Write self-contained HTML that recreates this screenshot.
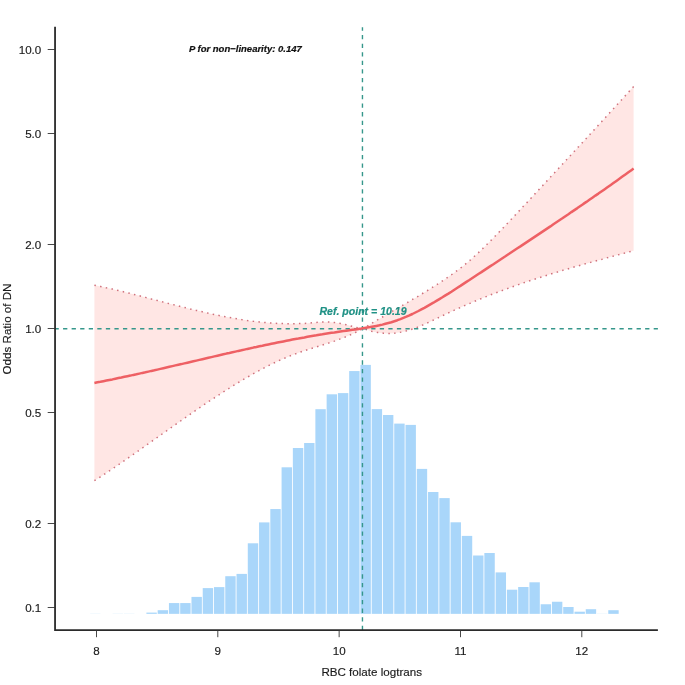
<!DOCTYPE html>
<html><head><meta charset="utf-8"><title>RCS plot</title>
<style>
html,body{margin:0;padding:0;background:#fff;}
svg{display:block;}
text{font-family:"Liberation Sans",Arial,Helvetica,sans-serif;}
</style></head>
<body>
<svg width="685" height="685" viewBox="0 0 685 685">
<rect width="685" height="685" fill="#ffffff"/>
<g fill="#A9D6FA">
<rect x="90.08" y="613.50" width="10.4" height="0.35" opacity="0.35"/><rect x="112.61" y="613.50" width="10.4" height="0.35" opacity="0.35"/><rect x="123.88" y="613.50" width="10.4" height="0.35" opacity="0.35"/><rect x="146.41" y="612.60" width="10.4" height="1.25"/><rect x="157.67" y="610.20" width="10.4" height="3.65"/><rect x="168.94" y="603.07" width="10.4" height="10.78"/><rect x="180.20" y="603.07" width="10.4" height="10.78"/><rect x="191.47" y="596.90" width="10.4" height="16.95"/><rect x="202.73" y="588.10" width="10.4" height="25.75"/><rect x="214.00" y="587.10" width="10.4" height="26.75"/><rect x="225.26" y="576.20" width="10.4" height="37.65"/><rect x="236.52" y="573.90" width="10.4" height="39.95"/><rect x="247.79" y="543.30" width="10.4" height="70.55"/><rect x="259.06" y="522.40" width="10.4" height="91.45"/><rect x="270.32" y="509.05" width="10.4" height="104.80"/><rect x="281.58" y="467.30" width="10.4" height="146.55"/><rect x="292.85" y="448.00" width="10.4" height="165.85"/><rect x="304.12" y="443.00" width="10.4" height="170.85"/><rect x="315.38" y="409.20" width="10.4" height="204.65"/><rect x="326.64" y="394.30" width="10.4" height="219.55"/><rect x="337.91" y="393.10" width="10.4" height="220.75"/><rect x="349.18" y="371.06" width="10.4" height="242.79"/><rect x="360.44" y="364.90" width="10.4" height="248.95"/><rect x="371.70" y="409.10" width="10.4" height="204.75"/><rect x="382.97" y="415.00" width="10.4" height="198.85"/><rect x="394.24" y="423.60" width="10.4" height="190.25"/><rect x="405.50" y="424.90" width="10.4" height="188.95"/><rect x="416.76" y="468.90" width="10.4" height="144.95"/><rect x="428.03" y="492.00" width="10.4" height="121.85"/><rect x="439.30" y="498.10" width="10.4" height="115.75"/><rect x="450.56" y="522.30" width="10.4" height="91.55"/><rect x="461.82" y="535.90" width="10.4" height="77.95"/><rect x="473.09" y="555.50" width="10.4" height="58.35"/><rect x="484.36" y="553.00" width="10.4" height="60.85"/><rect x="495.62" y="572.40" width="10.4" height="41.45"/><rect x="506.88" y="589.70" width="10.4" height="24.15"/><rect x="518.15" y="587.00" width="10.4" height="26.85"/><rect x="529.42" y="582.30" width="10.4" height="31.55"/><rect x="540.68" y="604.25" width="10.4" height="9.60"/><rect x="551.95" y="601.75" width="10.4" height="12.10"/><rect x="563.21" y="607.00" width="10.4" height="6.85"/><rect x="574.48" y="611.70" width="10.4" height="2.15"/><rect x="585.74" y="609.20" width="10.4" height="4.65"/><rect x="597.00" y="613.50" width="10.4" height="0.35" opacity="0.35"/><rect x="608.27" y="610.20" width="10.4" height="3.65"/>
</g>
<path d="M94.4,285.2 L97.4,285.8 L100.4,286.4 L103.4,287.1 L106.4,287.8 L109.4,288.4 L112.4,289.1 L115.4,289.9 L118.4,290.6 L121.4,291.3 L124.4,292.0 L127.4,292.8 L130.4,293.5 L133.4,294.3 L136.4,295.1 L139.4,295.8 L142.4,296.6 L145.4,297.4 L148.4,298.2 L151.4,299.0 L154.4,299.7 L157.4,300.5 L160.4,301.3 L163.4,302.1 L166.4,302.9 L169.4,303.7 L172.4,304.4 L175.4,305.2 L178.4,306.0 L181.4,306.7 L184.4,307.5 L187.4,308.2 L190.4,309.0 L193.4,309.7 L196.4,310.4 L199.4,311.1 L202.4,311.8 L205.4,312.5 L208.4,313.2 L211.4,313.9 L214.4,314.5 L217.4,315.1 L220.4,315.8 L223.4,316.4 L226.4,316.9 L229.4,317.5 L232.4,318.0 L235.4,318.6 L238.4,319.1 L241.4,319.6 L244.4,320.0 L247.4,320.5 L250.4,320.9 L253.4,321.3 L256.4,321.6 L259.4,322.0 L262.4,322.3 L265.4,322.6 L268.4,322.8 L271.4,323.0 L274.4,323.2 L277.4,323.4 L280.4,323.5 L283.4,323.6 L286.4,323.7 L289.4,323.7 L292.4,323.7 L295.4,323.7 L298.4,323.6 L301.4,323.5 L304.4,323.4 L307.4,323.2 L310.4,323.0 L313.4,322.7 L316.4,322.5 L319.4,322.2 L322.4,322.1 L325.4,322.0 L328.4,322.0 L331.4,322.2 L334.4,322.5 L337.4,323.0 L340.4,323.5 L343.4,324.1 L346.4,324.8 L349.4,325.6 L352.4,326.4 L355.4,327.2 L358.4,327.9 L361.4,328.6 L362.5,328.7 L365.5,327.1 L368.5,325.3 L371.5,323.5 L374.5,321.7 L377.5,319.9 L380.5,318.2 L383.5,316.4 L386.5,314.6 L389.5,312.9 L392.5,311.2 L395.5,309.4 L398.5,307.7 L401.5,306.0 L404.5,304.2 L407.5,302.5 L410.5,300.7 L413.5,298.9 L416.5,297.2 L419.5,295.4 L422.5,293.5 L425.5,291.7 L428.5,289.9 L431.5,288.0 L434.5,286.1 L437.5,284.2 L440.5,282.2 L443.5,280.2 L446.5,278.2 L449.5,276.1 L452.5,274.0 L455.5,271.8 L458.5,269.6 L461.5,267.3 L464.5,264.9 L467.5,262.4 L470.5,259.9 L473.5,257.2 L476.5,254.5 L479.5,251.7 L482.5,248.8 L485.5,245.9 L488.5,242.9 L491.5,239.9 L494.5,236.8 L497.5,233.8 L500.5,230.6 L503.5,227.5 L506.5,224.3 L509.5,221.2 L512.5,218.0 L515.5,214.8 L518.5,211.6 L521.5,208.3 L524.5,205.1 L527.5,201.9 L530.5,198.7 L533.5,195.4 L536.5,192.2 L539.5,189.0 L542.5,185.8 L545.5,182.5 L548.5,179.3 L551.5,176.0 L554.5,172.8 L557.5,169.6 L560.5,166.3 L563.5,163.1 L566.5,159.8 L569.5,156.6 L572.5,153.3 L575.5,150.1 L578.5,146.8 L581.5,143.6 L584.5,140.3 L587.5,137.1 L590.5,133.8 L593.5,130.5 L596.5,127.3 L599.5,124.0 L602.5,120.7 L605.5,117.4 L608.5,114.1 L611.5,110.9 L614.5,107.6 L617.5,104.3 L620.5,101.0 L623.5,97.7 L626.5,94.4 L629.5,91.1 L632.5,87.8 L633.6,86.6 L633.6,250.7 L632.5,251.0 L629.5,251.8 L626.5,252.6 L623.5,253.4 L620.5,254.2 L617.5,255.0 L614.5,255.8 L611.5,256.6 L608.5,257.4 L605.5,258.2 L602.5,259.1 L599.5,259.9 L596.5,260.7 L593.5,261.5 L590.5,262.4 L587.5,263.2 L584.5,264.0 L581.5,264.9 L578.5,265.8 L575.5,266.6 L572.5,267.5 L569.5,268.4 L566.5,269.3 L563.5,270.1 L560.5,271.0 L557.5,272.0 L554.5,272.9 L551.5,273.8 L548.5,274.7 L545.5,275.7 L542.5,276.6 L539.5,277.6 L536.5,278.6 L533.5,279.5 L530.5,280.5 L527.5,281.5 L524.5,282.5 L521.5,283.6 L518.5,284.6 L515.5,285.7 L512.5,286.7 L509.5,287.8 L506.5,288.9 L503.5,290.0 L500.5,291.1 L497.5,292.2 L494.5,293.4 L491.5,294.5 L488.5,295.7 L485.5,296.9 L482.5,298.1 L479.5,299.3 L476.5,300.5 L473.5,301.8 L470.5,303.1 L467.5,304.3 L464.5,305.6 L461.5,307.0 L458.5,308.3 L455.5,309.6 L452.5,311.0 L449.5,312.4 L446.5,313.8 L443.5,315.2 L440.5,316.7 L437.5,318.1 L434.5,319.6 L431.5,321.0 L428.5,322.4 L425.5,323.8 L422.5,325.1 L419.5,326.4 L416.5,327.6 L413.5,328.7 L410.5,329.7 L407.5,330.6 L404.5,331.4 L401.5,332.1 L398.5,332.6 L395.5,333.0 L392.5,333.3 L389.5,333.4 L386.5,333.4 L383.5,333.2 L380.5,332.9 L377.5,332.5 L374.5,331.9 L371.5,331.2 L368.5,330.3 L365.5,329.3 L362.5,328.7 L361.4,329.4 L358.4,331.0 L355.4,332.5 L352.4,333.9 L349.4,335.3 L346.4,336.6 L343.4,337.8 L340.4,338.9 L337.4,340.0 L334.4,341.1 L331.4,342.1 L328.4,343.1 L325.4,344.1 L322.4,345.0 L319.4,346.0 L316.4,346.9 L313.4,347.8 L310.4,348.8 L307.4,349.7 L304.4,350.7 L301.4,351.7 L298.4,352.8 L295.4,353.9 L292.4,355.0 L289.4,356.2 L286.4,357.4 L283.4,358.7 L280.4,360.0 L277.4,361.4 L274.4,362.8 L271.4,364.2 L268.4,365.7 L265.4,367.3 L262.4,368.8 L259.4,370.4 L256.4,372.1 L253.4,373.7 L250.4,375.4 L247.4,377.2 L244.4,378.9 L241.4,380.7 L238.4,382.5 L235.4,384.4 L232.4,386.2 L229.4,388.1 L226.4,390.0 L223.4,391.9 L220.4,393.9 L217.4,395.8 L214.4,397.8 L211.4,399.8 L208.4,401.8 L205.4,403.8 L202.4,405.8 L199.4,407.9 L196.4,409.9 L193.4,412.0 L190.4,414.1 L187.4,416.2 L184.4,418.3 L181.4,420.4 L178.4,422.5 L175.4,424.6 L172.4,426.7 L169.4,428.8 L166.4,431.0 L163.4,433.1 L160.4,435.2 L157.4,437.4 L154.4,439.5 L151.4,441.6 L148.4,443.7 L145.4,445.9 L142.4,448.0 L139.4,450.1 L136.4,452.2 L133.4,454.3 L130.4,456.4 L127.4,458.5 L124.4,460.6 L121.4,462.7 L118.4,464.7 L115.4,466.8 L112.4,468.8 L109.4,470.8 L106.4,472.8 L103.4,474.8 L100.4,476.8 L97.4,478.8 L94.4,480.7Z" fill="#FFE6E4" stroke="none"/>
<path d="M94.4,285.2 L97.4,285.8 L100.4,286.4 L103.4,287.1 L106.4,287.8 L109.4,288.4 L112.4,289.1 L115.4,289.9 L118.4,290.6 L121.4,291.3 L124.4,292.0 L127.4,292.8 L130.4,293.5 L133.4,294.3 L136.4,295.1 L139.4,295.8 L142.4,296.6 L145.4,297.4 L148.4,298.2 L151.4,299.0 L154.4,299.7 L157.4,300.5 L160.4,301.3 L163.4,302.1 L166.4,302.9 L169.4,303.7 L172.4,304.4 L175.4,305.2 L178.4,306.0 L181.4,306.7 L184.4,307.5 L187.4,308.2 L190.4,309.0 L193.4,309.7 L196.4,310.4 L199.4,311.1 L202.4,311.8 L205.4,312.5 L208.4,313.2 L211.4,313.9 L214.4,314.5 L217.4,315.1 L220.4,315.8 L223.4,316.4 L226.4,316.9 L229.4,317.5 L232.4,318.0 L235.4,318.6 L238.4,319.1 L241.4,319.6 L244.4,320.0 L247.4,320.5 L250.4,320.9 L253.4,321.3 L256.4,321.6 L259.4,322.0 L262.4,322.3 L265.4,322.6 L268.4,322.8 L271.4,323.0 L274.4,323.2 L277.4,323.4 L280.4,323.5 L283.4,323.6 L286.4,323.7 L289.4,323.7 L292.4,323.7 L295.4,323.7 L298.4,323.6 L301.4,323.5 L304.4,323.4 L307.4,323.2 L310.4,323.0 L313.4,322.7 L316.4,322.5 L319.4,322.2 L322.4,322.1 L325.4,322.0 L328.4,322.0 L331.4,322.2 L334.4,322.5 L337.4,323.0 L340.4,323.5 L343.4,324.1 L346.4,324.8 L349.4,325.6 L352.4,326.4 L355.4,327.2 L358.4,327.9 L361.4,328.6 L362.5,328.7 L365.5,327.1 L368.5,325.3 L371.5,323.5 L374.5,321.7 L377.5,319.9 L380.5,318.2 L383.5,316.4 L386.5,314.6 L389.5,312.9 L392.5,311.2 L395.5,309.4 L398.5,307.7 L401.5,306.0 L404.5,304.2 L407.5,302.5 L410.5,300.7 L413.5,298.9 L416.5,297.2 L419.5,295.4 L422.5,293.5 L425.5,291.7 L428.5,289.9 L431.5,288.0 L434.5,286.1 L437.5,284.2 L440.5,282.2 L443.5,280.2 L446.5,278.2 L449.5,276.1 L452.5,274.0 L455.5,271.8 L458.5,269.6 L461.5,267.3 L464.5,264.9 L467.5,262.4 L470.5,259.9 L473.5,257.2 L476.5,254.5 L479.5,251.7 L482.5,248.8 L485.5,245.9 L488.5,242.9 L491.5,239.9 L494.5,236.8 L497.5,233.8 L500.5,230.6 L503.5,227.5 L506.5,224.3 L509.5,221.2 L512.5,218.0 L515.5,214.8 L518.5,211.6 L521.5,208.3 L524.5,205.1 L527.5,201.9 L530.5,198.7 L533.5,195.4 L536.5,192.2 L539.5,189.0 L542.5,185.8 L545.5,182.5 L548.5,179.3 L551.5,176.0 L554.5,172.8 L557.5,169.6 L560.5,166.3 L563.5,163.1 L566.5,159.8 L569.5,156.6 L572.5,153.3 L575.5,150.1 L578.5,146.8 L581.5,143.6 L584.5,140.3 L587.5,137.1 L590.5,133.8 L593.5,130.5 L596.5,127.3 L599.5,124.0 L602.5,120.7 L605.5,117.4 L608.5,114.1 L611.5,110.9 L614.5,107.6 L617.5,104.3 L620.5,101.0 L623.5,97.7 L626.5,94.4 L629.5,91.1 L632.5,87.8 L633.6,86.6" fill="none" stroke="#D0727D" stroke-width="1.5" stroke-dasharray="1.5 4.3"/>
<path d="M94.4,480.7 L97.4,478.8 L100.4,476.8 L103.4,474.8 L106.4,472.8 L109.4,470.8 L112.4,468.8 L115.4,466.8 L118.4,464.7 L121.4,462.7 L124.4,460.6 L127.4,458.5 L130.4,456.4 L133.4,454.3 L136.4,452.2 L139.4,450.1 L142.4,448.0 L145.4,445.9 L148.4,443.7 L151.4,441.6 L154.4,439.5 L157.4,437.4 L160.4,435.2 L163.4,433.1 L166.4,431.0 L169.4,428.8 L172.4,426.7 L175.4,424.6 L178.4,422.5 L181.4,420.4 L184.4,418.3 L187.4,416.2 L190.4,414.1 L193.4,412.0 L196.4,409.9 L199.4,407.9 L202.4,405.8 L205.4,403.8 L208.4,401.8 L211.4,399.8 L214.4,397.8 L217.4,395.8 L220.4,393.9 L223.4,391.9 L226.4,390.0 L229.4,388.1 L232.4,386.2 L235.4,384.4 L238.4,382.5 L241.4,380.7 L244.4,378.9 L247.4,377.2 L250.4,375.4 L253.4,373.7 L256.4,372.1 L259.4,370.4 L262.4,368.8 L265.4,367.3 L268.4,365.7 L271.4,364.2 L274.4,362.8 L277.4,361.4 L280.4,360.0 L283.4,358.7 L286.4,357.4 L289.4,356.2 L292.4,355.0 L295.4,353.9 L298.4,352.8 L301.4,351.7 L304.4,350.7 L307.4,349.7 L310.4,348.8 L313.4,347.8 L316.4,346.9 L319.4,346.0 L322.4,345.0 L325.4,344.1 L328.4,343.1 L331.4,342.1 L334.4,341.1 L337.4,340.0 L340.4,338.9 L343.4,337.8 L346.4,336.6 L349.4,335.3 L352.4,333.9 L355.4,332.5 L358.4,331.0 L361.4,329.4 L362.5,328.7 L365.5,329.3 L368.5,330.3 L371.5,331.2 L374.5,331.9 L377.5,332.5 L380.5,332.9 L383.5,333.2 L386.5,333.4 L389.5,333.4 L392.5,333.3 L395.5,333.0 L398.5,332.6 L401.5,332.1 L404.5,331.4 L407.5,330.6 L410.5,329.7 L413.5,328.7 L416.5,327.6 L419.5,326.4 L422.5,325.1 L425.5,323.8 L428.5,322.4 L431.5,321.0 L434.5,319.6 L437.5,318.1 L440.5,316.7 L443.5,315.2 L446.5,313.8 L449.5,312.4 L452.5,311.0 L455.5,309.6 L458.5,308.3 L461.5,307.0 L464.5,305.6 L467.5,304.3 L470.5,303.1 L473.5,301.8 L476.5,300.5 L479.5,299.3 L482.5,298.1 L485.5,296.9 L488.5,295.7 L491.5,294.5 L494.5,293.4 L497.5,292.2 L500.5,291.1 L503.5,290.0 L506.5,288.9 L509.5,287.8 L512.5,286.7 L515.5,285.7 L518.5,284.6 L521.5,283.6 L524.5,282.5 L527.5,281.5 L530.5,280.5 L533.5,279.5 L536.5,278.6 L539.5,277.6 L542.5,276.6 L545.5,275.7 L548.5,274.7 L551.5,273.8 L554.5,272.9 L557.5,272.0 L560.5,271.0 L563.5,270.1 L566.5,269.3 L569.5,268.4 L572.5,267.5 L575.5,266.6 L578.5,265.8 L581.5,264.9 L584.5,264.0 L587.5,263.2 L590.5,262.4 L593.5,261.5 L596.5,260.7 L599.5,259.9 L602.5,259.1 L605.5,258.2 L608.5,257.4 L611.5,256.6 L614.5,255.8 L617.5,255.0 L620.5,254.2 L623.5,253.4 L626.5,252.6 L629.5,251.8 L632.5,251.0 L633.6,250.7" fill="none" stroke="#D0727D" stroke-width="1.5" stroke-dasharray="1.5 4.3"/>
<line x1="54.5" y1="328.7" x2="657.9" y2="328.7" stroke="#36978B" stroke-width="1.4" stroke-dasharray="4.28 4.28"/>
<line x1="362.45" y1="630.0" x2="362.45" y2="27.2" stroke="#36978B" stroke-width="1.4" stroke-dasharray="4.28 4.28"/>
<path d="M94.4,382.9 L97.4,382.3 L100.4,381.8 L103.4,381.2 L106.4,380.6 L109.4,380.0 L112.4,379.4 L115.4,378.7 L118.4,378.1 L121.4,377.5 L124.4,376.8 L127.4,376.2 L130.4,375.6 L133.4,374.9 L136.4,374.3 L139.4,373.6 L142.4,372.9 L145.4,372.3 L148.4,371.6 L151.4,370.9 L154.4,370.3 L157.4,369.6 L160.4,368.9 L163.4,368.2 L166.4,367.5 L169.4,366.8 L172.4,366.1 L175.4,365.4 L178.4,364.7 L181.4,364.1 L184.4,363.4 L187.4,362.7 L190.4,362.0 L193.4,361.3 L196.4,360.6 L199.4,359.9 L202.4,359.2 L205.4,358.5 L208.4,357.8 L211.4,357.1 L214.4,356.4 L217.4,355.7 L220.4,355.0 L223.4,354.3 L226.4,353.6 L229.4,353.0 L232.4,352.3 L235.4,351.6 L238.4,350.9 L241.4,350.3 L244.4,349.6 L247.4,348.9 L250.4,348.3 L253.4,347.6 L256.4,347.0 L259.4,346.3 L262.4,345.7 L265.4,345.0 L268.4,344.4 L271.4,343.8 L274.4,343.2 L277.4,342.6 L280.4,342.0 L283.4,341.4 L286.4,340.8 L289.4,340.2 L292.4,339.6 L295.4,339.0 L298.4,338.5 L301.4,337.9 L304.4,337.4 L307.4,336.8 L310.4,336.3 L313.4,335.8 L316.4,335.3 L319.4,334.7 L322.4,334.3 L325.4,333.8 L328.4,333.3 L331.4,332.8 L334.4,332.4 L337.4,331.9 L340.4,331.5 L343.4,331.1 L346.4,330.7 L349.4,330.3 L352.4,329.8 L355.4,329.4 L358.4,329.0 L361.4,328.6 L364.4,328.1 L367.4,327.6 L370.4,327.1 L373.4,326.5 L376.4,325.9 L379.4,325.3 L382.4,324.6 L385.4,323.8 L388.4,323.0 L391.4,322.2 L394.4,321.2 L397.4,320.2 L400.4,319.1 L403.4,317.9 L406.4,316.7 L409.4,315.4 L412.4,314.0 L415.4,312.5 L418.4,311.0 L421.4,309.4 L424.4,307.8 L427.4,306.1 L430.4,304.4 L433.4,302.7 L436.4,300.9 L439.4,299.1 L442.4,297.3 L445.4,295.4 L448.4,293.6 L451.4,291.7 L454.4,289.7 L457.4,287.8 L460.4,285.9 L463.4,283.9 L466.4,281.9 L469.4,280.0 L472.4,278.0 L475.4,276.0 L478.4,274.0 L481.4,272.1 L484.4,270.1 L487.4,268.1 L490.4,266.1 L493.4,264.2 L496.4,262.2 L499.4,260.2 L502.4,258.2 L505.4,256.3 L508.4,254.3 L511.4,252.3 L514.4,250.3 L517.4,248.3 L520.4,246.4 L523.4,244.4 L526.4,242.4 L529.4,240.4 L532.4,238.4 L535.4,236.4 L538.4,234.4 L541.4,232.4 L544.4,230.4 L547.4,228.4 L550.4,226.4 L553.4,224.3 L556.4,222.3 L559.4,220.3 L562.4,218.3 L565.4,216.2 L568.4,214.2 L571.4,212.1 L574.4,210.1 L577.4,208.1 L580.4,206.0 L583.4,203.9 L586.4,201.9 L589.4,199.8 L592.4,197.7 L595.4,195.6 L598.4,193.6 L601.4,191.5 L604.4,189.4 L607.4,187.3 L610.4,185.2 L613.4,183.0 L616.4,180.9 L619.4,178.8 L622.4,176.6 L625.4,174.5 L628.4,172.3 L631.4,170.2 L633.6,168.6" fill="none" stroke="#EE6064" stroke-width="2.5" stroke-linejoin="round"/>
<g stroke="#2b2b2b" stroke-width="1.8" fill="none" stroke-linecap="butt">
<path d="M55.05,26.7 V630.05 H657.9"/>
</g>
<g stroke="#333" stroke-width="0.9"><line x1="47.7" y1="49.5" x2="55" y2="49.5"/><line x1="47.7" y1="133.5" x2="55" y2="133.5"/><line x1="47.7" y1="244.5" x2="55" y2="244.5"/><line x1="47.7" y1="328.5" x2="55" y2="328.5"/><line x1="47.7" y1="412.5" x2="55" y2="412.5"/><line x1="47.7" y1="523.5" x2="55" y2="523.5"/><line x1="47.7" y1="607.5" x2="55" y2="607.5"/><line x1="96.5" y1="630" x2="96.5" y2="637.2"/><line x1="217.8" y1="630" x2="217.8" y2="637.2"/><line x1="339.15" y1="630" x2="339.15" y2="637.2"/><line x1="460.5" y1="630" x2="460.5" y2="637.2"/><line x1="581.8" y1="630" x2="581.8" y2="637.2"/></g>
<g font-size="11.6px" fill="#1a1a1a" stroke="#1a1a1a" stroke-width="0.15"><text x="41.3" y="54.0" text-anchor="end">10.0</text><text x="41.3" y="138.0" text-anchor="end">5.0</text><text x="41.3" y="249.0" text-anchor="end">2.0</text><text x="41.3" y="333.0" text-anchor="end">1.0</text><text x="41.3" y="417.0" text-anchor="end">0.5</text><text x="41.3" y="528.0" text-anchor="end">0.2</text><text x="41.3" y="612.0" text-anchor="end">0.1</text><text x="96.5" y="655" text-anchor="middle">8</text><text x="217.8" y="655" text-anchor="middle">9</text><text x="339.15" y="655" text-anchor="middle">10</text><text x="460.5" y="655" text-anchor="middle">11</text><text x="581.8" y="655" text-anchor="middle">12</text>
<text x="371.7" y="676" text-anchor="middle">RBC folate logtrans</text>
<text transform="translate(11,329) rotate(-90)" text-anchor="middle">Odds Ratio of DN</text>
</g>
<text x="188.9" y="52.3" font-size="9.5px" font-weight="bold" font-style="italic" fill="#111" stroke="#111" stroke-width="0.2">P for non−linearity: 0.147</text>
<text x="319.5" y="314.5" font-size="10.55px" font-weight="bold" font-style="italic" fill="#1F9185" stroke="#1F9185" stroke-width="0.2">Ref. point = 10.19</text>
</svg>
</body></html>
